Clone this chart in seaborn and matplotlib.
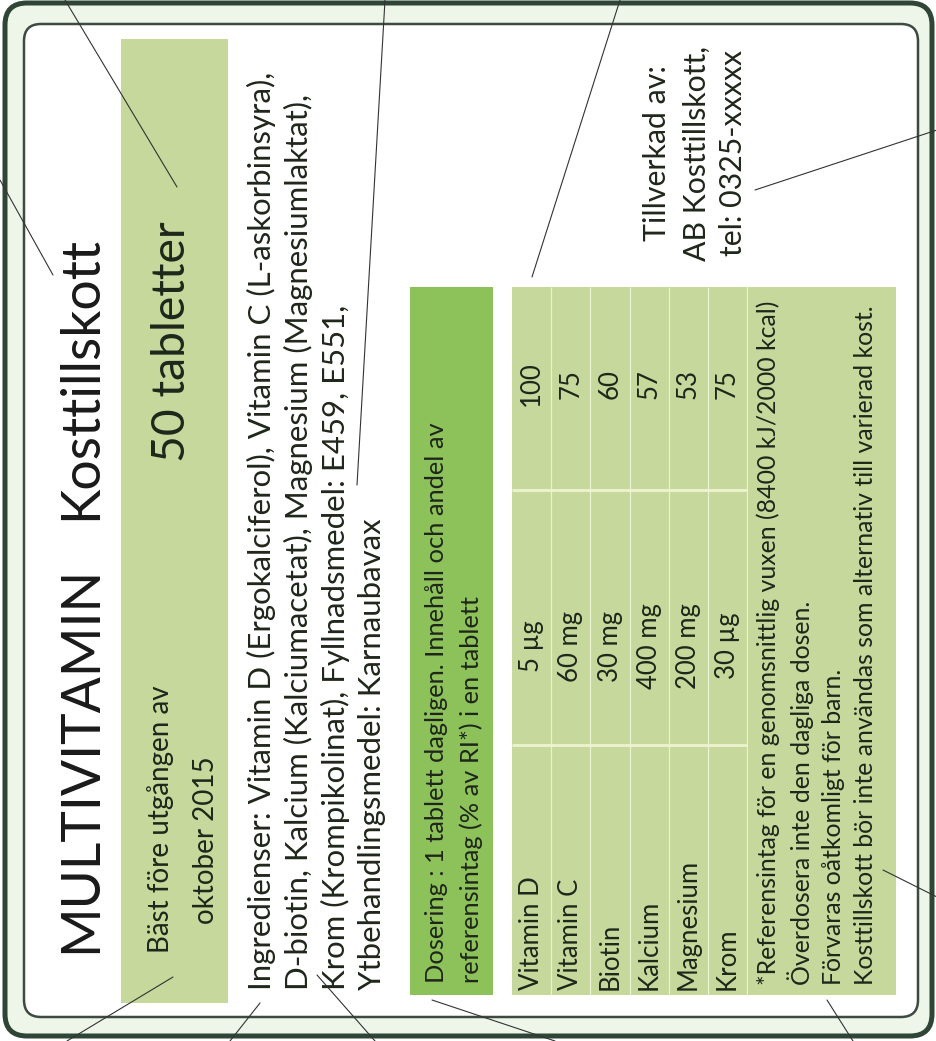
import numpy as np
import seaborn as sns
import matplotlib.pyplot as plt
from matplotlib.patches import FancyBboxPatch, Rectangle
from matplotlib.colors import ListedColormap

# label texts and table values
title_words = ["MULTIVITAMIN", "Kosttillskott"]
pack_size = "50 tabletter"
best_before = ["Bäst före utgången av", "oktober 2015"]
ingredient_lines = [
    "Ingredienser: Vitamin D (Ergokalciferol), Vitamin C (L-askorbinsyra),",
    "D-biotin, Kalcium (Kalciumacetat), Magnesium (Magnesiumlaktat),",
    "Krom (Krompikolinat), Fyllnadsmedel: E459, E551,",
    "Ytbehandlingsmedel: Karnaubavax",
]
dose_lines = [
    "Dosering : 1 tablett dagligen. Innehåll och andel av",
    "referensintag (% av RI*) i en tablett",
]
nutrients = ["Vitamin D", "Vitamin C", "Biotin", "Kalcium", "Magnesium", "Krom"]
amounts = ["5 µg", "60 mg", "30 mg", "400 mg", "200 mg", "30 µg"]
ri_percent = [100, 75, 60, 57, 53, 75]
footnote_lines = [
    "*Referensintag för en genomsnittlig vuxen (8400 kJ/2000 kcal)",
    "Överdosera inte den dagliga dosen.",
    "Förvaras oåtkomligt för barn.",
    "Kosttillskott bör inte användas som alternativ till varierad kost.",
]
maker_lines = ["Tillverkad av:", "AB Kosttillskott,", "tel: 0325-xxxxx"]

sns.set_theme(style="white")
plt.rcParams['font.family'] = ['Lato', 'DejaVu Sans']

W, H = 937, 1041
fig = plt.figure(figsize=(W / 100, H / 100), dpi=100)
ax = fig.add_axes([0, 0, 1, 1])
ax.set_xlim(0, W)
ax.set_ylim(H, 0)
ax.axis('off')
renderer = fig.canvas.get_renderer()

light = '#c6d89c'
header_green = '#8dc25b'
ink = '#1f261a'

# frame
ax.add_patch(FancyBboxPatch((5, 3), 927, 1033, boxstyle="round,pad=0,rounding_size=22",
                            fc='#eef6ea', ec='#2f4636', lw=3.6))
ax.add_patch(FancyBboxPatch((24, 24), 894, 993, boxstyle="round,pad=0,rounding_size=17",
                            fc='white', ec='#3d4a40', lw=1.8))

# green boxes
ax.add_patch(Rectangle((121, 39), 107, 964, fc=light, ec='none'))
ax.add_patch(Rectangle((410, 287), 83, 708, fc=header_green, ec='none'))
ax.add_patch(Rectangle((512, 287), 384, 708, fc=light, ec='none'))


def vtext(a, x, y, s, length=None, size=None, ha='left', color=ink):
    t = a.text(x, y, s, rotation=90, rotation_mode='anchor', ha=ha, va='center',
               color=color, fontsize=size or 12)
    if length is not None:
        bb = t.get_window_extent(renderer)
        t.set_fontsize(t.get_fontsize() * length / bb.height)
    return t


t = vtext(ax, 81, 953, title_words[0], length=386, color='#1a1a1a')
vtext(ax, 81, 520, title_words[1], size=t.get_fontsize(), color='#1a1a1a')
vtext(ax, 172, 462, pack_size, length=240)
t = vtext(ax, 161, 953, best_before[0], length=266)
vtext(ax, 206, 840, best_before[1], size=t.get_fontsize(), ha='center')

t = vtext(ax, 261, 990, ingredient_lines[0], length=913)
for x, s in zip([298, 335, 372], ingredient_lines[1:]):
    vtext(ax, x, 990, s, size=t.get_fontsize())

t = vtext(ax, 437, 983, dose_lines[0], length=560)
vtext(ax, 471, 983, dose_lines[1], size=t.get_fontsize())

t = vtext(ax, 697, 153, maker_lines[1], length=214, ha='center')
vtext(ax, 657, 153, maker_lines[0], size=t.get_fontsize(), ha='center')
vtext(ax, 733, 153, maker_lines[2], size=t.get_fontsize(), ha='center')

t = vtext(ax, 768, 985, footnote_lines[0], length=685)
for x, s in zip([801, 834, 866], footnote_lines[1:]):
    vtext(ax, x, 985, s, size=t.get_fontsize())

# nutrition table drawn as a one-colour heatmap, one cell per nutrient
ax_t = fig.add_axes([512 / W, 1 - 995 / H, (748 - 512) / W, (995 - 287) / H])
sns.heatmap(np.zeros((1, len(nutrients))), ax=ax_t, cmap=ListedColormap([light]),
            cbar=False, linewidths=0, xticklabels=False, yticklabels=False)
ax_t.set_xlim(0, len(nutrients) + 0.02)
ax_t.vlines(np.arange(1, len(nutrients) + 1), 0, 1, color='#ecf3d2', lw=0.9)
ax_t.hlines([(745 - 287) / 708, (490 - 287) / 708], 0, len(nutrients),
            color='#edf3d0', lw=2.0)
t = None
for i, (name, amt, pct) in enumerate(zip(nutrients, amounts, ri_percent)):
    tt = vtext(ax_t, i + 0.5, (990 - 287) / 708, name, length=113 if i == 0 else None,
               size=t.get_fontsize() if t else None)
    if t is None:
        t = tt
    vtext(ax_t, i + 0.5, (646 - 287) / 708, amt, size=t.get_fontsize(), ha='center')
    vtext(ax_t, i + 0.5, (384 - 287) / 708, str(pct), size=t.get_fontsize(), ha='center')

# leader lines pointing at the label parts
leaders = [((0, 180), (53, 275)), ((65, 0), (177, 187)), ((385, 0), (357, 485)),
           ((620, 0), (532, 277)), ((937, 130), (755, 190)), ((883, 870), (937, 897)),
           ((827, 1000), (853, 1041)), ((432, 1000), (555, 1041)),
           ((317, 975), (375, 1041)), ((260, 1003), (230, 1041)),
           ((173, 977), (67, 1041))]
for (x0, y0), (x1, y1) in leaders:
    ax.plot([x0, x1], [y0, y1], color='#333333', lw=0.8, zorder=5)

fig.savefig('out.png', dpi=100)
